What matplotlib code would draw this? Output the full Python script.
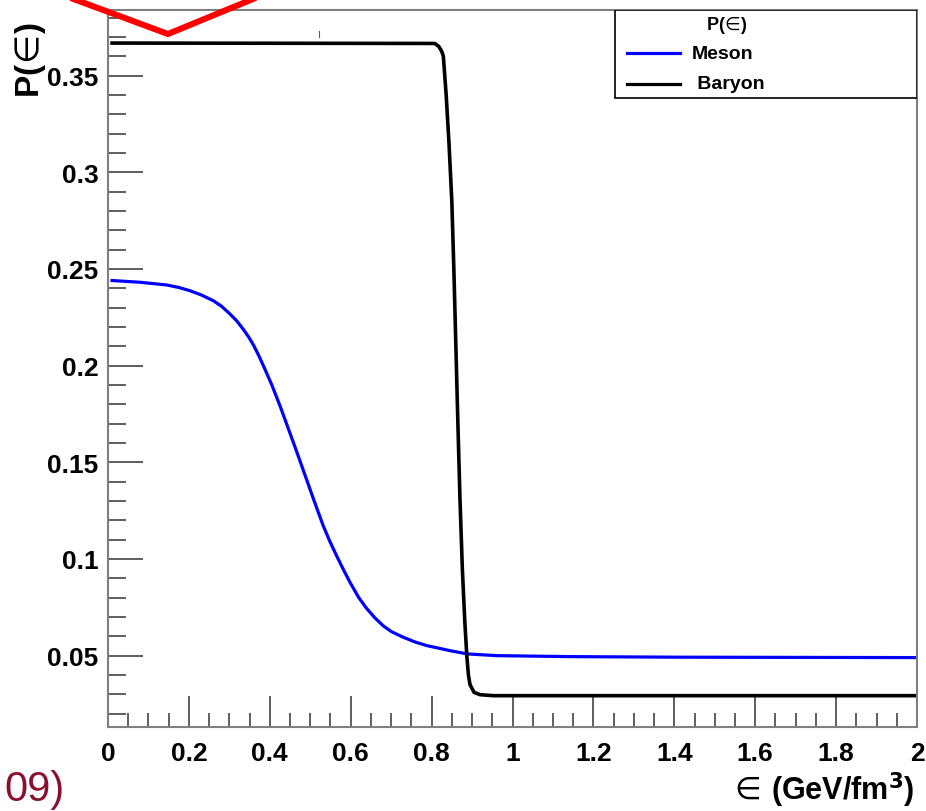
import matplotlib
matplotlib.use('Agg')
import matplotlib.pyplot as plt
from matplotlib.lines import Line2D
from matplotlib.patches import Rectangle
from matplotlib.ticker import MultipleLocator

# данные
meson_x = [0.01, 0.079, 0.145, 0.175, 0.203, 0.230, 0.260, 0.280, 0.300, 0.318, 0.334, 0.348,
           0.360, 0.372, 0.384, 0.405, 0.425, 0.446, 0.467, 0.488, 0.508, 0.532, 0.548, 0.565,
           0.582, 0.598, 0.620, 0.639, 0.660, 0.680, 0.700, 0.730, 0.760, 0.788, 0.845, 0.888,
           0.961, 1.142, 1.414, 2.0]
meson_y = [0.2440, 0.2431, 0.2417, 0.2404, 0.2387, 0.2366, 0.2336, 0.2308, 0.2270, 0.2232, 0.2189, 0.2147,
           0.2105, 0.2055, 0.2000, 0.1900, 0.1793, 0.1673, 0.1552, 0.1428, 0.1310, 0.1172, 0.1093, 0.1017,
           0.0945, 0.0880, 0.0800, 0.0745, 0.0695, 0.0655, 0.0625, 0.0595, 0.0570, 0.0552, 0.0526, 0.0509,
           0.0500, 0.0495, 0.0492, 0.0490]

baryon_x = [0.01, 0.808, 0.818, 0.825, 0.829, 0.836, 0.843, 0.850, 0.855, 0.860, 0.865,
            0.870, 0.876, 0.882, 0.887, 0.891, 0.895, 0.905, 0.920, 0.953, 2.0]
baryon_y = [0.3668, 0.3666, 0.3650, 0.3625, 0.3600, 0.3400, 0.3150, 0.2850, 0.2500, 0.2100, 0.1700,
            0.1320, 0.0950, 0.0680, 0.0500, 0.0400, 0.0350, 0.0310, 0.0298, 0.0293, 0.0293]

series_labels = ['Meson', ' Baryon']
legend_title = r'P($\!\in\!$)'
x_label = r'$\!\in\!$ (GeV/fm$^{\mathbf{3}}$)'
y_label = r'P($\!\in\!$)'

plt.rcParams['font.family'] = ['Liberation Sans', 'DejaVu Sans']

W, H = 926, 812
fig = plt.figure(figsize=(W / 100, H / 100), dpi=100)
ax = fig.add_axes([108 / W, 1 - 728 / H, (917 - 108) / W, (728 - 11) / H])

ax.plot(meson_x, meson_y, color='#0000ff', lw=2.3, solid_joinstyle='round')
ax.plot(baryon_x, baryon_y, color='black', lw=2.6, solid_joinstyle='round')

ax.set_xlim(0, 2)
ax.set_ylim(0.0131, 0.3839)

# оси в стиле ROOT
for s in ax.spines.values():
    s.set_color('#7f7f7f')
    s.set_linewidth(1.5)
ax.xaxis.set_major_locator(MultipleLocator(0.2))
ax.xaxis.set_minor_locator(MultipleLocator(0.05))
ax.yaxis.set_major_locator(MultipleLocator(0.05))
ax.yaxis.set_minor_locator(MultipleLocator(0.01))
ax.xaxis.set_major_formatter(plt.FuncFormatter(lambda v, _: f'{v:g}'))
ax.yaxis.set_major_formatter(plt.FuncFormatter(lambda v, _: f'{v:g}'))
ax.tick_params(which='both', direction='in', top=False, right=False, color='#333333', width=1.1)
ax.tick_params(axis='y', which='major', length=25, pad=7)
ax.tick_params(axis='y', which='minor', length=13)
ax.tick_params(axis='x', which='major', length=22, pad=10)
ax.tick_params(axis='x', which='minor', length=10)
for lab in ax.get_xticklabels() + ax.get_yticklabels():
    lab.set_fontsize(19)
    lab.set_fontweight('bold')

# подписи осей
fig.text(915 / W, 1 - 790 / H, x_label, ha='right', va='center', fontsize=22, fontweight='bold')
fig.text(31 / W, 1 - 22 / H, y_label, rotation=90, ha='center', va='top', fontsize=24, fontweight='bold')

# легенда
ax.add_patch(Rectangle((0.627, 0.877), 0.373, 0.123, transform=ax.transAxes,
                       facecolor='white', edgecolor='black', lw=1.2, zorder=5))
ax.text(0.765, 0.980, legend_title, transform=ax.transAxes, ha='center', va='center',
        fontsize=13, fontweight='bold', zorder=6)
for yy, col, lab in [(0.940, '#0000ff', series_labels[0]), (0.897, 'black', series_labels[1])]:
    ax.add_line(Line2D([0.6415, 0.707], [yy, yy], transform=ax.transAxes, color=col, lw=2.3, zorder=6))
    ax.text(0.722, yy, lab, transform=ax.transAxes, ha='left', va='center',
            fontsize=14, fontweight='bold', zorder=6)

# красные пометки поверх рисунка
fig.add_artist(Line2D([60 / W, 168 / W, 270 / W], [1 + 5 / H, 1 - 35 / H, 1 + 7 / H],
                      transform=fig.transFigure, color='#ff0000', lw=4.4, solid_joinstyle='miter'))
fig.add_artist(Line2D([319 / W, 319 / W], [1 - 32 / H, 1 - 38 / H],
                      transform=fig.transFigure, color='#e0203a', lw=0.8))
fig.text(65 / W, 1 - 790 / H, '09)', ha='right', va='center', fontsize=30, color='#8a0f30')

plt.savefig('out.png', dpi=100)
